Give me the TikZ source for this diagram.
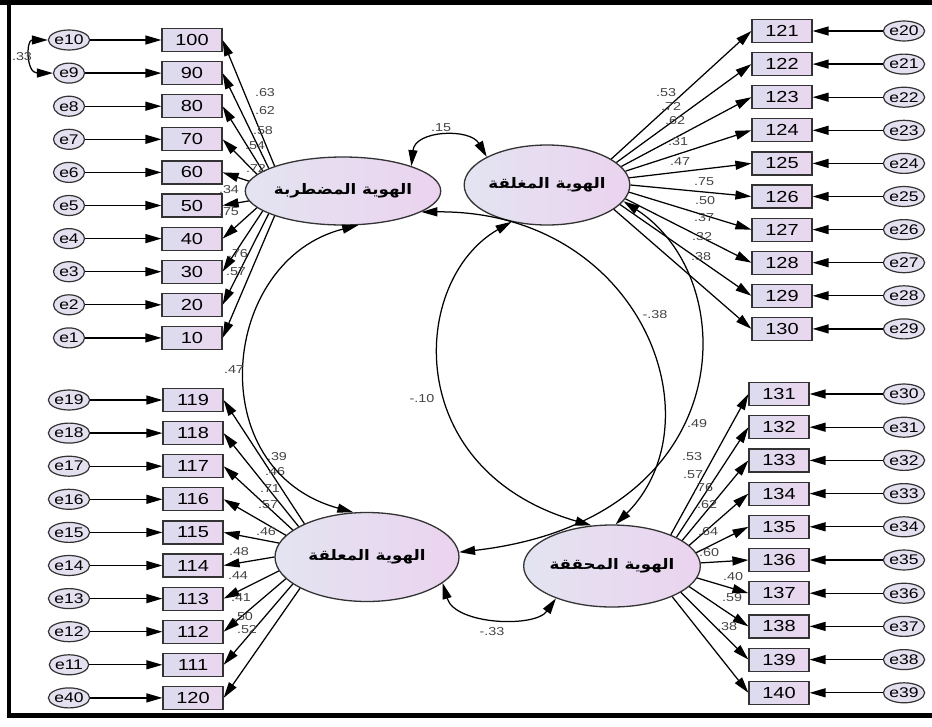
\documentclass[tikz,border=0pt]{standalone}
\usepackage{fontspec}
\setmainfont{Liberation Sans}
\newfontfamily\arabicfont[Script=Arabic]{DejaVu Sans}
\TeXXeTstate=1
\usetikzlibrary{shapes.geometric,arrows.meta}

\definecolor{latL}{HTML}{E3E4F1}
\definecolor{latR}{HTML}{EBD3EF}
\definecolor{boxL}{HTML}{DCDCEE}
\definecolor{boxR}{HTML}{EAD6EF}
\definecolor{errfill}{HTML}{E4E0F0}
\definecolor{edge}{HTML}{333333}
\definecolor{lblgray}{HTML}{444444}

% horizontally widened text
\newcommand\hx[1]{\scalebox{1.25}[1]{#1}}
\newcommand\arlabel[1]{\scalebox{1.15}[1]{\arabicfont\bfseries\beginR #1\endR}}

\tikzset{
  obs/.style={rectangle, draw=edge, line width=1.2pt, minimum width=60pt,
    minimum height=23pt, inner sep=0pt, left color=boxL, right color=boxR,
    font=\fontsize{16}{16}\selectfont},
  errnode/.style={ellipse, draw=edge, line width=1.2pt, minimum width=31pt,
    minimum height=20pt, inner sep=0pt, fill=errfill,
    font=\fontsize{14}{14}\selectfont},
  latent/.style={ellipse, draw=edge, line width=1.3pt, inner sep=0pt,
    left color=latL, right color=latR, font=\fontsize{14.5}{16}\selectfont},
  arr/.style={draw=black, line width=1.25pt, -{Triangle[length=16pt,width=9pt]}},
  cov/.style={draw=black, line width=1.25pt,
    {Triangle[length=16pt,width=9pt]}-{Triangle[length=16pt,width=9pt]}},
  lbl/.style={inner sep=0pt, text=lblgray, font=\fontsize{11.5}{12}\selectfont},
}

\begin{document}
\begin{tikzpicture}[x=1pt, y=-1pt]
\useasboundingbox (0,0) rectangle (932,726);
% frame
\fill[black] (0,0) rectangle (932,5);
\fill[black] (7,0) rectangle (11,718);
\fill[black] (7,713) rectangle (932,718);

% latent variables
\node[latent, minimum width=168pt, minimum height=68pt] (TL) at (343,191) {\arlabel{الهوية المضطربة}};
\node[latent, minimum width=163pt, minimum height=80pt] (TR) at (547,185) {\arlabel{الهوية المغلقة}};
\node[latent, minimum width=184pt, minimum height=89pt] (BL) at (367,557) {\arlabel{الهوية المعلقة}};
\node[latent, minimum width=171pt, minimum height=82pt] (BR) at (612,566) {\arlabel{الهوية المحققة}};

% upper left block
\foreach \i/\num/\err/\ang in {0/100/10/160, 1/90/9/163, 2/80/8/166, 3/70/7/169,
    4/60/6/174, 5/50/5/186, 6/40/4/191, 7/30/3/194, 8/20/2/197, 9/10/1/200} {
  \node[obs] (b\num) at (192,{40+33.1*\i}) {\hx{\num}};
  \node[errnode] (e\err) at (69,{40+33.1*\i}) {\hx{e\err}};
  \draw[arr] (e\err) -- (b\num);
  \draw[arr] (TL.\ang) -- (b\num.east);
}

% lower left block
\foreach \i/\num/\err/\ang in {0/119/19/152, 1/118/18/156, 2/117/17/160, 3/116/16/165,
    4/115/15/171, 5/114/14/180, 6/113/13/189, 7/112/12/195, 8/111/11/200, 9/120/40/205} {
  \node[obs] (b\num) at (193,{400+33.1*\i}) {\hx{\num}};
  \node[errnode] (e\err) at (69,{400+33.1*\i}) {\hx{e\err}};
  \draw[arr] (e\err) -- (b\num);
  \draw[arr] (BL.\ang) -- (b\num.east);
}

% upper right block
\foreach \i/\num/\err/\ang in {0/121/20/22, 1/122/21/18, 2/123/22/14, 3/124/23/10,
    4/125/24/5, 5/126/25/0, 6/127/26/-5, 7/128/27/-10, 8/129/28/-15, 9/130/29/-20} {
  \node[obs] (b\num) at (782,{31+33.1*\i}) {\hx{\num}};
  \node[errnode] (e\err) at (904,{31+33.1*\i}) {\hx{e\err}};
  \draw[arr] (e\err) -- (b\num);
  \draw[arr] (TR.\ang) -- (b\num.west);
}

% lower right block
\foreach \i/\num/\err/\ang in {0/131/30/28, 1/132/31/24, 2/133/32/20, 3/134/33/15,
    4/135/34/9, 5/136/35/2, 6/137/36/-8, 7/138/37/-15, 8/139/38/-21, 9/140/39/-27} {
  \node[obs] (b\num) at (779,{394+33.2*\i}) {\hx{\num}};
  \node[errnode] (e\err) at (904,{394+33.2*\i}) {\hx{e\err}};
  \draw[arr] (e\err) -- (b\num);
  \draw[arr] (BR.\ang) -- (b\num.west);
}

% loadings
\foreach \t/\x/\y in {.63/265/93, .62/265/111, .58/263/131, .54/255/146, .72/256/168,
    .34/229/190, .75/229/212, .76/238/254, .57/236/272,
    .53/666/93, .72/671/106, .62/675/121, .31/678/142, .47/680/162,
    .75/704/182, .50/705/201, .37/704/218, .32/702/237, .38/701/257,
    .39/277/457, .46/275/472, .71/270/489, .57/268/505, .46/266/532,
    .48/239/552, .44/238/576, .41/241/598, .50/243/617, .52/247/630,
    .49/697/424, .53/692/457, .57/693/475, .76/703/488, .62/707/505,
    .64/708/532, .60/709/553, .40/733/577, .59/732/598, .38/727/627}
  \node[lbl] at (\x,\y) {\hx{\t}};

% covariances between latent variables
\draw[cov] (TL.20) .. controls (415,130) and (470,128) .. (TR.155);
\draw[cov] (TL.-66) .. controls (220,260) and (200,470) .. (BL.107);
\draw[cov] (TL.-15) .. controls (640,210) and (720,420) .. (BR.85);
\draw[cov] (TR.-134) .. controls (410,280) and (400,470) .. (BR.117);
\draw[cov] (TR.-12) .. controls (745,280) and (740,520) .. (BL.3);
\draw[cov] (BL.-19) .. controls (455,625) and (535,628) .. (BR.210);
\draw[cov] (e10.west) .. controls (26,40) and (26,73) .. (e9.west);

\node[lbl] at (441,128) {\hx{.15}};
\node[lbl] at (234,370) {\hx{.47}};
\node[lbl] at (655,315) {\hx{-.38}};
\node[lbl] at (422,399) {\hx{-.10}};
\node[lbl] at (492,632) {\hx{-.33}};
\node[lbl] at (22,57) {\hx{.33}};
\end{tikzpicture}
\end{document}
